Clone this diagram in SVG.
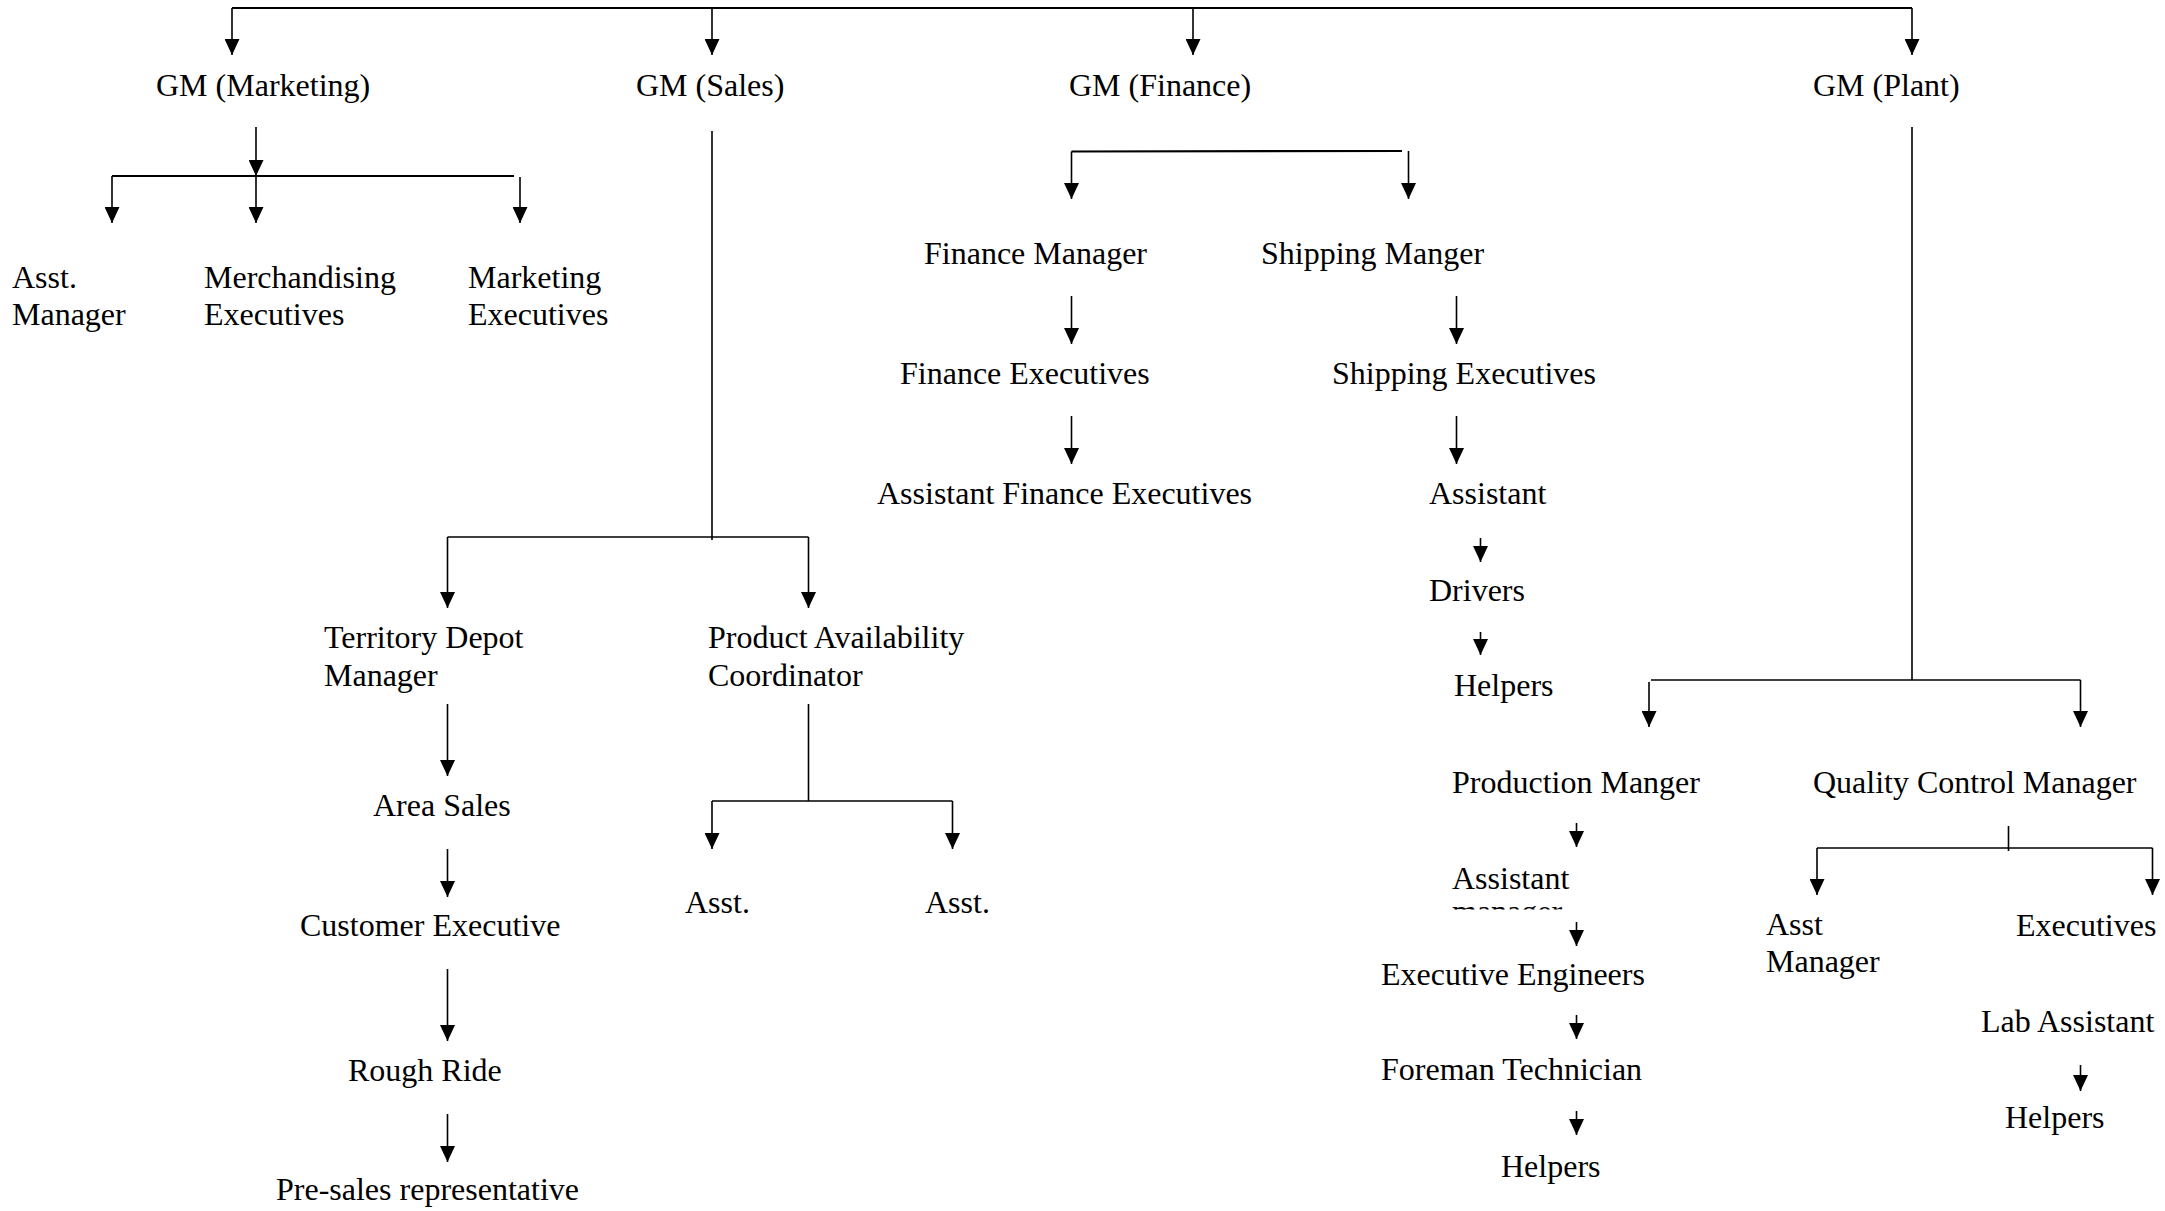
<svg xmlns="http://www.w3.org/2000/svg" width="2165" height="1211" viewBox="0 0 2165 1211">
<style>
text { font-family: "Liberation Serif", "Times New Roman", serif; font-size: 32px; fill: #000; }
.c line, .c path { stroke: #000; stroke-width: 1.6; fill: none; }
.c .h { stroke-width: 2.2; }
.c .a { marker-end: url(#ah); }
</style>
<defs>
<marker id="ah" viewBox="0 0 16 15" refX="16" refY="7.5" markerWidth="16" markerHeight="15" markerUnits="userSpaceOnUse" orient="auto">
<path d="M0,0 L16,7.5 L0,15 z" fill="#000"/>
</marker>
<clipPath id="clipMgr"><rect x="1440" y="895" width="200" height="14.5"/></clipPath>
</defs>
<rect width="2165" height="1211" fill="#fff"/>
<g class="c" id="connectors">
<line class="h" x1="232" y1="8" x2="1912" y2="8"/>
<line class="a" x1="232" y1="8" x2="232" y2="55"/>
<line class="a" x1="712" y1="8" x2="712" y2="55"/>
<line class="a" x1="1193" y1="8" x2="1193" y2="55"/>
<line class="a" x1="1912" y1="8" x2="1912" y2="55"/>
<line class="a" x1="256" y1="127" x2="256" y2="176"/>
<line class="h" x1="112" y1="176" x2="514" y2="176"/>
<line class="a" x1="112" y1="176" x2="112" y2="223"/>
<line class="a" x1="256" y1="176" x2="256" y2="223"/>
<line class="a" x1="520" y1="177" x2="520" y2="223"/>
<line x1="712" y1="131" x2="712" y2="540"/>
<line x1="447.5" y1="537" x2="808.5" y2="537"/>
<line class="a" x1="447.5" y1="537" x2="447.5" y2="608"/>
<line class="a" x1="808.5" y1="537" x2="808.5" y2="608"/>
<line class="a" x1="447.5" y1="704" x2="447.5" y2="776"/>
<line class="a" x1="447.5" y1="849" x2="447.5" y2="897"/>
<line class="a" x1="447.5" y1="969" x2="447.5" y2="1041"/>
<line class="a" x1="447.5" y1="1114" x2="447.5" y2="1162"/>
<line x1="808.5" y1="704" x2="808.5" y2="801"/>
<line x1="712" y1="801" x2="952.5" y2="801"/>
<line class="a" x1="712" y1="801" x2="712" y2="849"/>
<line class="a" x1="952.5" y1="801" x2="952.5" y2="849"/>
<line class="h" x1="1071.5" y1="151.5" x2="1402" y2="151"/>
<line class="a" x1="1071.5" y1="151.5" x2="1071.5" y2="199"/>
<line class="a" x1="1408.5" y1="151" x2="1408.5" y2="199"/>
<line class="a" x1="1071.5" y1="296" x2="1071.5" y2="344"/>
<line class="a" x1="1071.5" y1="416" x2="1071.5" y2="464"/>
<line class="a" x1="1456.5" y1="296" x2="1456.5" y2="344"/>
<line class="a" x1="1456.5" y1="416" x2="1456.5" y2="464"/>
<line class="a" x1="1480.5" y1="538" x2="1480.5" y2="562"/>
<line class="a" x1="1480.5" y1="632" x2="1480.5" y2="655"/>
<line x1="1912" y1="127" x2="1912" y2="680"/>
<line x1="1651" y1="680" x2="2080.5" y2="680"/>
<line class="a" x1="1649" y1="682" x2="1649" y2="727"/>
<line class="a" x1="2080.5" y1="680" x2="2080.5" y2="727"/>
<line class="a" x1="1576.5" y1="823" x2="1576.5" y2="847"/>
<line class="a" x1="1576.5" y1="922" x2="1576.5" y2="946"/>
<line class="a" x1="1576.5" y1="1015" x2="1576.5" y2="1039"/>
<line class="a" x1="1576.5" y1="1111" x2="1576.5" y2="1135"/>
<line x1="2008.5" y1="826" x2="2008.5" y2="851"/>
<line x1="1817" y1="848" x2="2152.5" y2="848"/>
<line class="a" x1="1817" y1="848" x2="1817" y2="895"/>
<line class="a" x1="2152.5" y1="848" x2="2152.5" y2="895"/>
<line class="a" x1="2080.5" y1="1065" x2="2080.5" y2="1091"/>
</g>
<g id="gm-marketing"><text x="156" y="96">GM (Marketing)</text></g>
<g id="gm-sales"><text x="636" y="96">GM (Sales)</text></g>
<g id="gm-finance"><text x="1069" y="96">GM (Finance)</text></g>
<g id="gm-plant"><text x="1813" y="96">GM (Plant)</text></g>
<g id="mkt-asst-manager"><text x="12" y="288">Asst.</text><text x="12" y="325">Manager</text></g>
<g id="merch-exec"><text x="204" y="288">Merchandising</text><text x="204" y="325">Executives</text></g>
<g id="mkt-exec"><text x="468" y="288">Marketing</text><text x="468" y="325">Executives</text></g>
<g id="finance-manager"><text x="924" y="264">Finance Manager</text></g>
<g id="shipping-manager"><text x="1261" y="264">Shipping Manger</text></g>
<g id="finance-exec"><text x="900" y="384">Finance Executives</text></g>
<g id="shipping-exec"><text x="1332" y="384">Shipping Executives</text></g>
<g id="asst-finance-exec"><text x="877" y="504">Assistant Finance Executives</text></g>
<g id="shipping-assistant"><text x="1429" y="504">Assistant</text></g>
<g id="drivers"><text x="1429" y="601">Drivers</text></g>
<g id="shipping-helpers"><text x="1454" y="696">Helpers</text></g>
<g id="territory-depot"><text x="324" y="648">Territory Depot</text><text x="324" y="686">Manager</text></g>
<g id="product-avail"><text x="708" y="648">Product Availability</text><text x="708" y="686">Coordinator</text></g>
<g id="area-sales"><text x="373" y="816">Area Sales</text></g>
<g id="customer-exec"><text x="300" y="936">Customer Executive</text></g>
<g id="rough-ride"><text x="348" y="1081">Rough Ride</text></g>
<g id="pre-sales"><text x="276" y="1200">Pre-sales representative</text></g>
<g id="pac-asst-1"><text x="685" y="913">Asst.</text></g>
<g id="pac-asst-2"><text x="925" y="913">Asst.</text></g>
<g id="production-manager"><text x="1452" y="793">Production Manger</text></g>
<g id="qc-manager"><text x="1813" y="793">Quality Control Manager</text></g>
<g id="prod-assistant"><text x="1452" y="889">Assistant</text><text x="1452" y="922" clip-path="url(#clipMgr)">manager</text></g>
<g id="exec-engineers"><text x="1381" y="985">Executive Engineers</text></g>
<g id="foreman"><text x="1381" y="1080">Foreman Technician</text></g>
<g id="prod-helpers"><text x="1501" y="1177">Helpers</text></g>
<g id="qc-asst-manager"><text x="1766" y="935">Asst</text><text x="1766" y="972">Manager</text></g>
<g id="qc-exec"><text x="2016" y="936">Executives</text></g>
<g id="lab-assistant"><text x="1981" y="1032">Lab Assistant</text></g>
<g id="qc-helpers"><text x="2005" y="1128">Helpers</text></g>
</svg>
